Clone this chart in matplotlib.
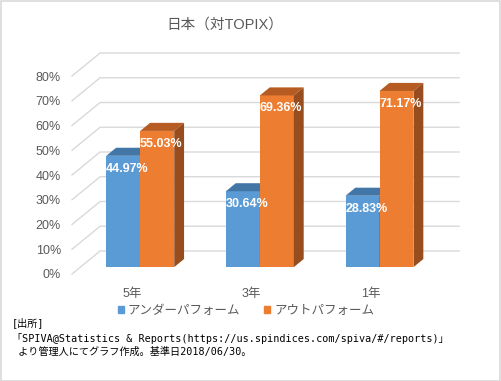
import numpy as np
import matplotlib.pyplot as plt
from matplotlib.patches import Polygon, Patch, Rectangle

categories = ['5年', '3年', '1年']
under = [44.97, 30.64, 28.83]
outp = [55.03, 69.36, 71.17]
yticks = [0, 10, 20, 30, 40, 50, 60, 70, 80]
series_names = ['アンダーパフォーム', 'アウトパフォーム']

jp = ['Liberation Sans', 'Noto Sans CJK JP']
mono = ['DejaVu Sans Mono', 'Noto Sans CJK JP']
gray = '#595959'
gridc = '#d9d9d9'

# 3d look: depth vector of the floor in data units
DX, DY = 0.235, 9.3
d1, d2 = 0.30, 0.65   # bar front / back depth
w = 0.284

fig = plt.figure(figsize=(5.01, 3.81), dpi=100)
ax = fig.add_axes([72/501, 107/381, 387/501, 221/381])
ax.set_xlim(-0.5, 2.5 + DX)
ax.set_ylim(0, 80 + DY)
for s in ax.spines.values():
    s.set_visible(False)
ax.set_yticks(yticks)
ax.set_yticklabels([f'{t}%' for t in yticks], color=gray, fontsize=9, family=jp)
ax.set_xticks(range(len(categories)))
ax.set_xticklabels(categories, color=gray, fontsize=9, family=jp)
ax.tick_params(length=0)
ax.tick_params(axis='y', pad=8)
ax.tick_params(axis='x', pad=10)

# gridlines: side wall diagonal + back wall
for t in yticks:
    ax.plot([-0.5, -0.5 + DX, 2.5 + DX], [t, t + DY, t + DY], color=gridc, lw=1.0, zorder=1, clip_on=False)


def bar3d(x0, h, front, top, side):
    x1 = x0 + w
    ax.bar(x0 + d1*DX, h, width=w, bottom=d1*DY, align='edge', color=front, zorder=2)
    ax.add_patch(Polygon([(x0 + d1*DX, h + d1*DY), (x1 + d1*DX, h + d1*DY),
                          (x1 + d2*DX, h + d2*DY), (x0 + d2*DX, h + d2*DY)],
                         closed=True, color=top, zorder=2, lw=0))
    ax.add_patch(Polygon([(x1 + d1*DX, d1*DY), (x1 + d2*DX, d2*DY),
                          (x1 + d2*DX, h + d2*DY), (x1 + d1*DX, h + d1*DY)],
                         closed=True, color=side, zorder=2, lw=0))


for i in range(len(categories)):
    bar3d(i - w, under[i], '#5b9bd5', '#4276a6', '#3e6e9c')
    bar3d(i, outp[i], '#ed7d31', '#b65c22', '#974d1d')

for i in range(len(categories)):
    for x0, v in [(i - w, under[i]), (i, outp[i])]:
        ax.annotate(f'{v:.2f}%', (x0 + w/2 + 0.45*DX, v + d1*DY), xytext=(0, -13),
                    textcoords='offset pixels', ha='center', va='center',
                    color='white', fontsize=9, fontweight='bold',
                    family='Liberation Sans', zorder=5)

handles = [Patch(color='#5b9bd5'), Patch(color='#ed7d31')]
fig.legend(handles, series_names, loc='center', bbox_to_anchor=(246/501, 1 - 311/381),
           ncol=2, frameon=False, prop={'family': jp, 'size': 9},
           handlelength=0.5, handleheight=0.5, handletextpad=0.3, columnspacing=1.9,
           labelcolor=gray)

fig.text(225/501, 1 - 25/381, '日本（対TOPIX）', ha='center', va='center',
         fontsize=10.5, color=gray, family=jp)

src = ['[出所]',
       '「SPIVA@Statistics & Reports(https://us.spindices.com/spiva/#/reports)」',
       ' より管理人にてグラフ作成。基準日2018/06/30。']
for k, (line, yy) in enumerate(zip(src, [323, 338, 352])):
    fig.text(12/501, 1 - yy/381, line, ha='left', va='center', fontsize=7.3,
             color='black', family=mono)

fig.patches.append(Rectangle((0.001, 0.001), 0.997, 0.996, transform=fig.transFigure,
                             fill=False, edgecolor='#d9d9d9', lw=1.2))

fig.savefig('out.png', dpi=100)
